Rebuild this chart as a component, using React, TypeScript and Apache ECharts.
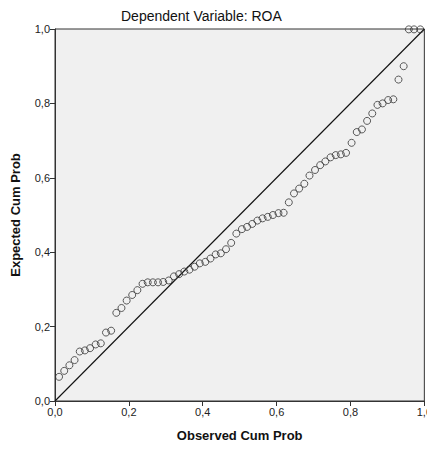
import React, { useEffect, useRef } from "react";
import * as echarts from "echarts";

const observedCumProb: number[] = [
  0.011, 0.025, 0.039, 0.053, 0.067, 0.081, 0.095, 0.110, 0.124, 0.138,
  0.152, 0.166, 0.180, 0.194, 0.209, 0.223, 0.237, 0.251, 0.265, 0.279,
  0.293, 0.308, 0.322, 0.336, 0.350, 0.364, 0.378, 0.392, 0.407, 0.421,
  0.435, 0.449, 0.463, 0.477, 0.491, 0.506, 0.520, 0.534, 0.548, 0.562,
  0.576, 0.590, 0.605, 0.619, 0.633, 0.647, 0.661, 0.675, 0.689, 0.704,
  0.718, 0.732, 0.746, 0.760, 0.774, 0.788, 0.803, 0.817, 0.831, 0.845,
  0.859, 0.873, 0.887, 0.902, 0.916, 0.930, 0.944, 0.958, 0.972, 0.989,
];

const expectedCumProb: number[] = [
  0.065, 0.081, 0.096, 0.110, 0.133, 0.136, 0.142, 0.152, 0.155, 0.184,
  0.189, 0.237, 0.250, 0.270, 0.285, 0.298, 0.315, 0.319, 0.319, 0.319,
  0.320, 0.324, 0.335, 0.341, 0.348, 0.353, 0.361, 0.370, 0.374, 0.383,
  0.394, 0.397, 0.408, 0.425, 0.450, 0.462, 0.468, 0.476, 0.485, 0.491,
  0.495, 0.500, 0.505, 0.506, 0.534, 0.558, 0.571, 0.584, 0.606, 0.621,
  0.634, 0.644, 0.655, 0.661, 0.663, 0.667, 0.694, 0.723, 0.730, 0.753,
  0.773, 0.796, 0.800, 0.809, 0.811, 0.864, 0.900, 0.999, 0.999, 0.999,
];

const referenceLine: number[][] = [
  [0, 0],
  [1, 1],
];

const titleText = "Dependent Variable: ROA";
const xAxisTitle = "Observed Cum Prob";
const yAxisTitle = "Expected Cum Prob";

const FONT = "'Liberation Sans', Arial, sans-serif";

export default function App() {
  const ref = useRef<HTMLDivElement>(null);

  useEffect(() => {
    if (!ref.current) return;
    const chart = echarts.init(ref.current, null, { renderer: "svg" });
    const fmt = (v: number) => v.toFixed(1).replace(".", ",");
    const axisCommon = {
      type: "value" as const,
      min: 0,
      max: 1,
      interval: 0.2,
      splitLine: { show: false },
      axisLine: { show: true, lineStyle: { color: "#333", width: 1 } },
      axisTick: { show: true, length: 5, lineStyle: { color: "#333" } },
      axisLabel: {
        color: "#222",
        fontFamily: FONT,
        fontSize: 11,
        formatter: fmt,
      },
      nameLocation: "middle" as const,
      nameTextStyle: {
        color: "#111",
        fontFamily: FONT,
        fontSize: 13,
        fontWeight: "bold" as const,
      },
    };
    chart.setOption({
      animation: false,
      backgroundColor: "#ffffff",
      title: {
        text: titleText,
        left: 116,
        top: 4,
        textStyle: {
          color: "#111",
          fontFamily: FONT,
          fontSize: 14,
          fontWeight: "normal",
        },
      },
      grid: {
        left: 55,
        top: 29,
        width: 373,
        height: 372,
        show: true,
        backgroundColor: "#F0F0F0",
        borderColor: "#333",
        borderWidth: 1,
      },
      xAxis: {
        ...axisCommon,
        name: xAxisTitle,
        nameGap: 28,
        axisLabel: { ...axisCommon.axisLabel, margin: 5 },
      },
      yAxis: {
        ...axisCommon,
        name: yAxisTitle,
        nameGap: 33,
        axisLabel: { ...axisCommon.axisLabel, margin: 5 },
      },
      series: [
        {
          type: "line",
          data: referenceLine,
          symbol: "none",
          lineStyle: { color: "#111", width: 1.1 },
          silent: true,
          z: 2,
        },
        {
          type: "scatter",
          data: observedCumProb.map((x, i) => [x, expectedCumProb[i]]),
          symbol: "circle",
          symbolSize: 7,
          clip: false,
          itemStyle: {
            color: "rgba(0,0,0,0)",
            borderColor: "#333",
            borderWidth: 1,
          },
          z: 3,
        },
      ],
    });
    return () => chart.dispose();
  }, []);

  return <div ref={ref} style={{ width: 435, height: 452, margin: -8 }} />;
}
